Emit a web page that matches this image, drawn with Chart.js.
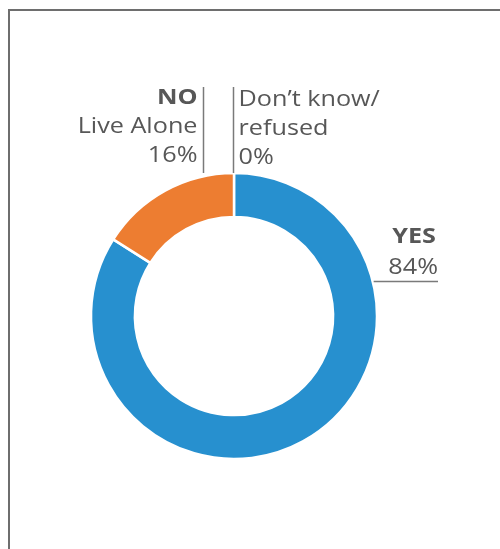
<!DOCTYPE html>
<html>
<head>
<meta charset="utf-8">
<title>Live alone</title>
<script src="https://cdn.jsdelivr.net/npm/chart.js@4.4.1/dist/chart.umd.min.js"></script>
<style>
  html, body { margin: 0; padding: 0; background: #ffffff; }
  #wrap { position: relative; width: 500px; height: 549px; overflow: hidden; }
  #frame {
    position: absolute; left: 8px; top: 9px; width: 520px; height: 560px;
    border-top: 2px solid #6e6e6e; border-left: 2px solid #6e6e6e;
    box-sizing: border-box;
  }
  canvas { position: absolute; left: 0; top: 0; }
</style>
</head>
<body>
<div id="wrap">
  <div id="frame"></div>
  <canvas id="chart" width="500" height="549"></canvas>
</div>
<script>
// Answers and their shares (percent)
const categories = ["YES", "NO", "Don't know/refused"];
const shares = [84, 16, 0];
const sliceColors = ["#2790cf", "#ed7d31", "#a5a5a5"];

const FONT = "'Open Sans', 'DejaVu Sans', sans-serif";
const TEXT = "#575757";
const STRETCH = 1.2;   // wide geometric look for the label face

// Writes a label stretched horizontally, anchored at x by its alignment
function label(ctx, text, x, y, align, bold) {
  ctx.save();
  ctx.font = (bold ? "bold " : "") + "21px " + FONT;
  ctx.textAlign = "left";
  const w = ctx.measureText(text).width * STRETCH;
  const left = align === "right" ? x - w : x;
  ctx.translate(left, y);
  ctx.scale(STRETCH, 1);
  ctx.fillText(text, 0, 0);
  ctx.restore();
}

// Draws the callout labels around the ring from the arc geometry
const callouts = {
  id: "callouts",
  afterDatasetsDraw(chart) {
    const ctx = chart.ctx;
    const arcs = chart.getDatasetMeta(0).data;
    const yes = arcs[0], dk = arcs[2];
    const cx = yes.x, cy = yes.y, R = yes.outerRadius;
    const top = cy - R;
    const lineTop = top - 86;
    const fmt = v => v + "%";

    ctx.save();
    ctx.strokeStyle = "#7a7a7a";
    ctx.lineWidth = 1.5;
    ctx.fillStyle = TEXT;
    ctx.textBaseline = "alphabetic";

    // "Don't know / refused" leader at the start of the ring
    const dkX = Math.round(cx + R * Math.cos(dk.startAngle)) - 0.5;
    ctx.beginPath();
    ctx.moveTo(dkX, lineTop);
    ctx.lineTo(dkX, top);
    ctx.stroke();

    // "NO" leader
    const noX = Math.round(cx - 31) + 0.5;
    ctx.beginPath();
    ctx.moveTo(noX, lineTop);
    ctx.lineTo(noX, top);
    ctx.stroke();

    // NO block, right aligned against its leader
    const noRight = noX - 6;
    label(ctx, "NO", noRight, top - 69, "right", true);
    label(ctx, "Live Alone", noRight, top - 40, "right", false);
    label(ctx, fmt(shares[1]), noRight, top - 11, "right", false);

    // Don't know block, left aligned after its leader
    const dkLeft = dkX + 5;
    label(ctx, "Don\u2019t know/", dkLeft, top - 67, "left", false);
    label(ctx, "refused", dkLeft, top - 38, "left", false);
    label(ctx, fmt(shares[2]), dkLeft, top - 9, "left", false);

    // YES block with underline touching the ring
    const yY = cy - 35;
    const yesX0 = cx + Math.sqrt(R * R - 35 * 35) + 1;
    const yesRight = cx + 204;
    ctx.beginPath();
    ctx.moveTo(yesX0, yY + 0.5);
    ctx.lineTo(yesRight, yY + 0.5);
    ctx.stroke();
    label(ctx, "YES", yesRight - 2, yY - 38, "right", true);
    label(ctx, fmt(shares[0]), yesRight, yY - 7, "right", false);
    ctx.restore();
  }
};

new Chart(document.getElementById("chart"), {
  type: "doughnut",
  data: {
    labels: categories,
    datasets: [{
      data: shares,
      backgroundColor: sliceColors,
      borderColor: "#ffffff",
      borderWidth: 2.5,
      radius: 143,
      cutout: "69.3%"
    }]
  },
  options: {
    responsive: false,
    animation: false,
    rotation: 0,
    layout: { padding: { left: 0, right: 32, top: 83, bottom: 0 } },
    plugins: {
      legend: { display: false },
      tooltip: { enabled: false }
    }
  },
  plugins: [callouts]
});
</script>
</body>
</html>
